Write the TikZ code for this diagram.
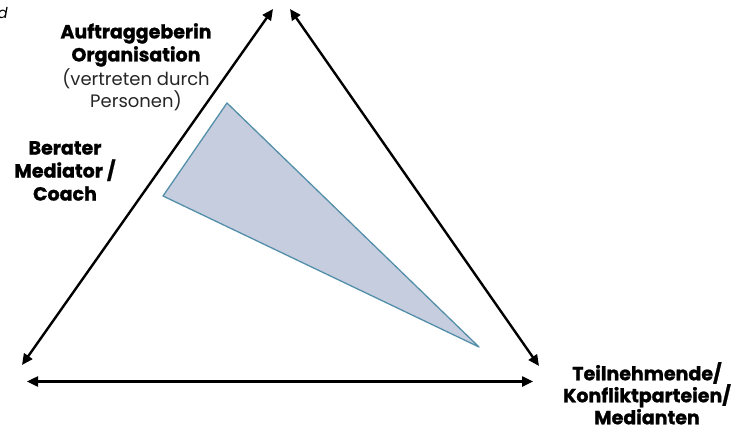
\documentclass[tikz,border=0pt]{standalone}
\usepackage{fontspec}
\setmainfont{Poppins}[BoldFeatures={FakeBold=1.2}]
\usetikzlibrary{arrows.meta}
\begin{document}
\begin{tikzpicture}[x=1pt,y=-1pt,
  arr/.style={line width=2.4pt,{Triangle[length=11pt,width=10pt]}-{Triangle[length=11pt,width=10pt]}},
  lbl/.style={font=\bfseries\fontsize{19}{23}\selectfont,align=center,inner sep=0pt},
  sub/.style={font=\fontsize{18}{22}\selectfont,align=center,inner sep=0pt,text=black!85}]
\useasboundingbox (0,0) rectangle (746,430);
\coordinate (lt) at (273,9);
\coordinate (lb) at (22,365);
\coordinate (rt) at (290,9);
\coordinate (rb) at (539,366);
\coordinate (bl) at (27,381.5);
\coordinate (br) at (533,381.5);
\draw[arr] (lb) -- (lt);
\draw[arr] (rt) -- (rb);
\draw[arr] (bl) -- (br);
\coordinate (ta) at (227,103);
\coordinate (tb) at (163,196);
\coordinate (tc) at (479,347);
\draw[fill={rgb,255:red,197;green,205;blue,222},draw={rgb,255:red,84;green,143;blue,170},line width=1.3pt,line join=round] (ta) -- (tb) -- (tc) -- cycle;
\node[lbl,anchor=north] (auf) at (136,23) {Auftraggeberin\\Organisation};
\node[sub,anchor=north] (ver) at (136,68) {(vertreten durch\\Personen)};
\node[lbl,anchor=north] (ber) at (65,141) {Berater\\Mediator /\\Coach};
\node[lbl,anchor=north,font=\bfseries\fontsize{19}{22}\selectfont] (tei) at (647,362) {Teilnehmende/\\Konfliktparteien/\\Medianten};
\node[font=\itshape\fontsize{15}{18}\selectfont,anchor=east,inner sep=0pt] (d) at (8,13) {d};
\end{tikzpicture}
\end{document}
